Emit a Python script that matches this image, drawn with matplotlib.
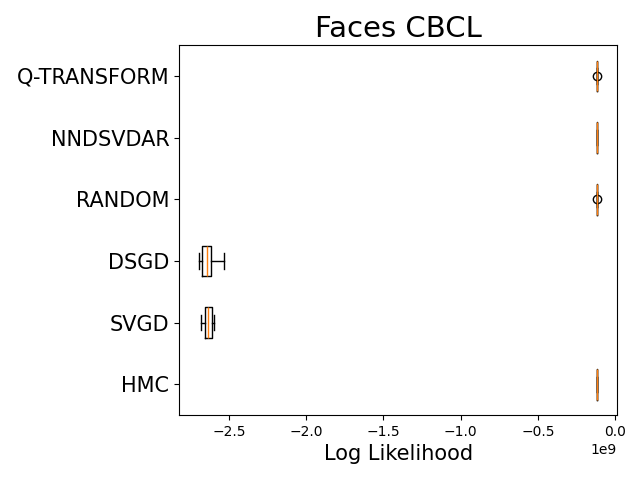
import numpy as np
import matplotlib
matplotlib.use('Agg')
import matplotlib.pyplot as plt

# method names, bottom to top
methods = ['HMC', 'SVGD', 'DSGD', 'RANDOM', 'NNDSVDAR', 'Q-TRANSFORM']

# log likelihood samples per method (x 1e9)
hmc = [-0.11745, -0.11740, -0.11736, -0.11733, -0.11730, -0.11727, -0.11724, -0.11720, -0.11715]
svgd = [-2.678, -2.665, -2.654, -2.645, -2.637, -2.625, -2.611, -2.600, -2.594]
dsgd = [-2.693, -2.685, -2.676, -2.660, -2.644, -2.630, -2.615, -2.580, -2.534]
random_init = [-0.11735, -0.11733, -0.11732, -0.11731, -0.11730, -0.11729, -0.11728, -0.11727, -0.11800]
nndsvdar = [-0.11732, -0.11731, -0.11731, -0.11730, -0.11730, -0.11730, -0.11729, -0.11729, -0.11728]
qtransform = [-0.11735, -0.11733, -0.11732, -0.11731, -0.11730, -0.11729, -0.11728, -0.11727, -0.11660]

samples = [hmc, svgd, dsgd, random_init, nndsvdar, qtransform]
samples = [np.array(s) * 1e9 for s in samples]

fig, ax = plt.subplots(figsize=(6.4, 4.8), dpi=100)
ax.boxplot(samples, vert=False)
ax.set_yticks(range(1, len(methods) + 1))
ax.set_yticklabels(methods, fontsize=15)
ax.set_xlabel('Log Likelihood', fontsize=15)
ax.set_title('Faces CBCL', fontsize=21)
fig.subplots_adjust(left=0.280, right=0.964, top=0.906, bottom=0.135)
fig.savefig('out.png', dpi=100)
